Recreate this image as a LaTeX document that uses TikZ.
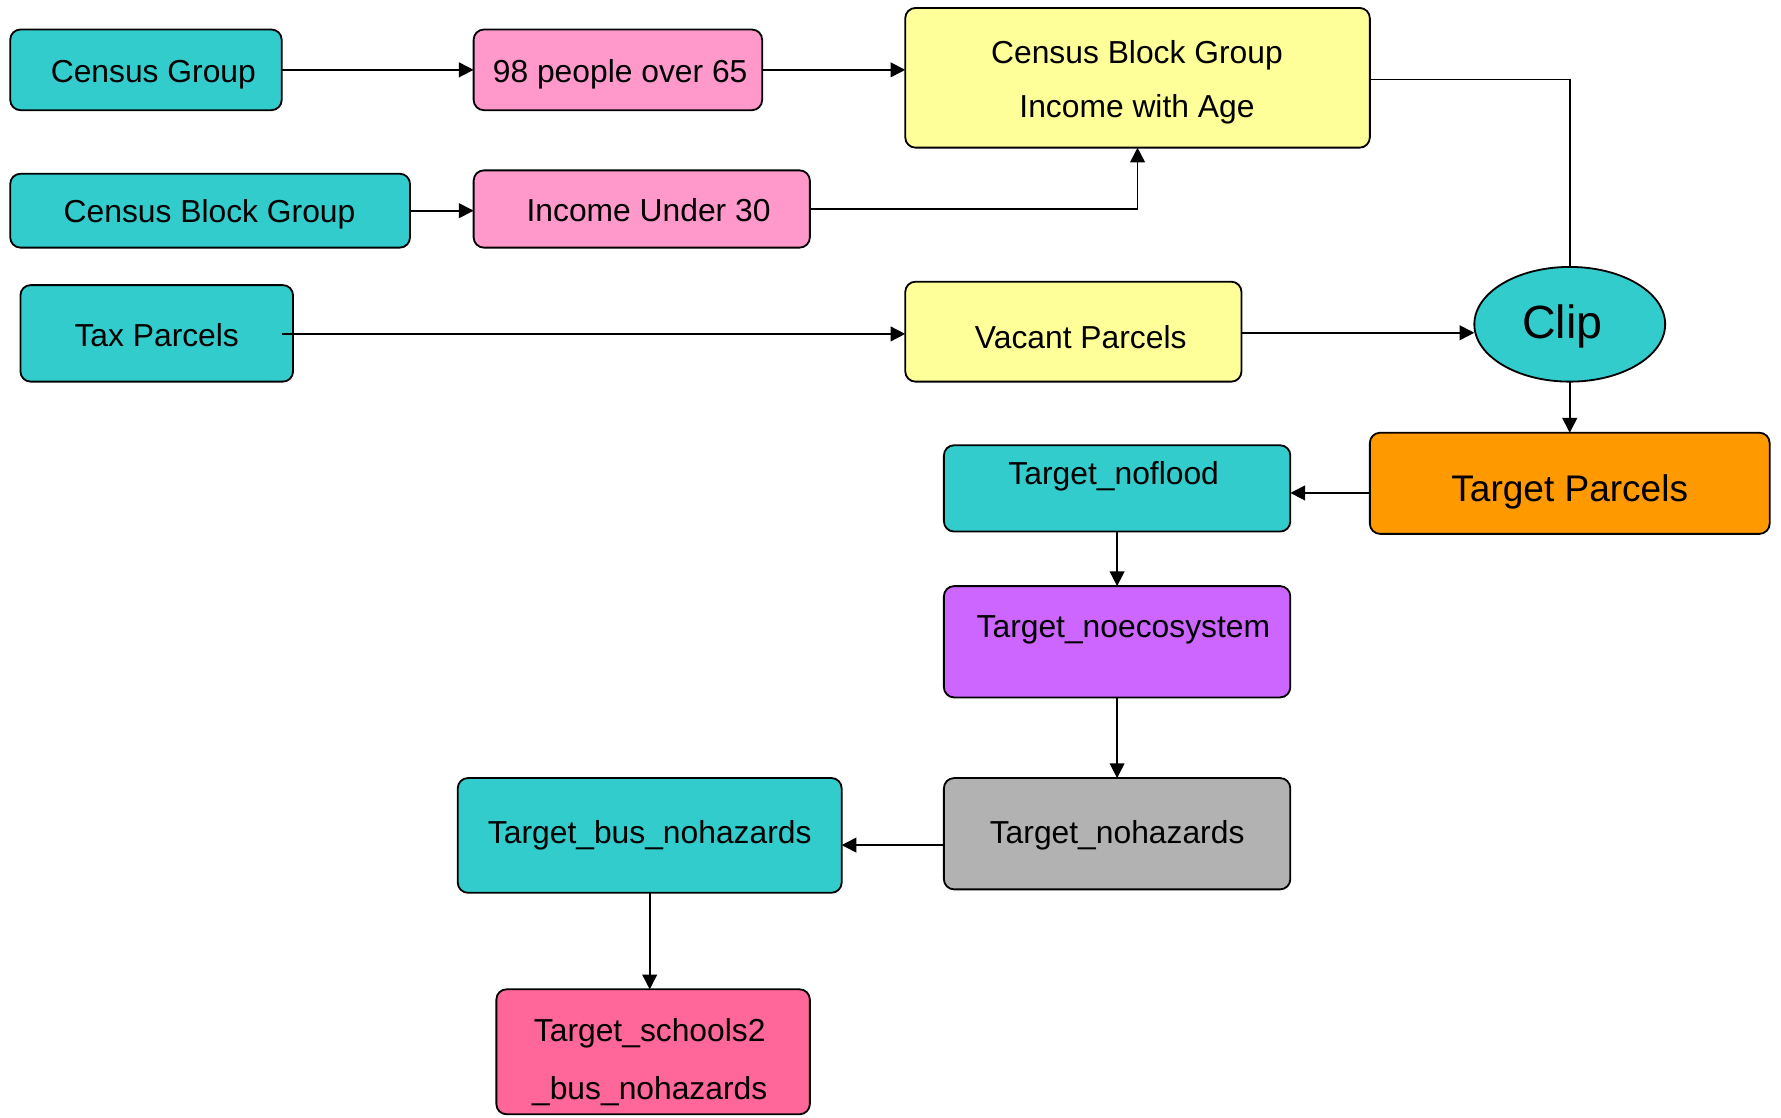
\documentclass[tikz,border=0pt]{standalone}
\usepackage{fontspec}
\setmainfont{Liberation Sans}
\usetikzlibrary{arrows.meta,shapes.geometric}

\definecolor{cteal}{HTML}{33CCCC}
\definecolor{cpink}{HTML}{FF99CC}
\definecolor{cyellow}{HTML}{FFFF99}
\definecolor{corange}{HTML}{FF9900}
\definecolor{cpurple}{HTML}{CC66FF}
\definecolor{cgray}{HTML}{B2B2B2}
\definecolor{crose}{HTML}{FF6699}

\tikzset{
  box/.style={draw=black, line width=0.8pt, rounded corners=4.5pt, outer sep=0pt, inner sep=0pt},
  oval/.style={ellipse, draw=black, line width=0.8pt, outer sep=0pt, inner sep=0pt},
  txt/.style={inner sep=0pt, text height=0.72em, text depth=0pt, yshift=-1.5pt, font=\fontsize{14}{16.8}\selectfont},
  bigtxt/.style={txt, yshift=-2pt, font=\fontsize{20.5}{24}\selectfont},
  midtxt/.style={txt, yshift=-0.5pt, font=\fontsize{16.3}{19.5}\selectfont},
  link/.style={line width=0.75pt, -{Triangle[length=6.5pt,width=6.5pt]}},
  plain/.style={line width=0.75pt}
}

\begin{document}
\begin{tikzpicture}[x=0.5pt, y=-0.5pt]
\useasboundingbox (0,0) rectangle (1568,984);

% boxes
\node[box, fill=cteal,   minimum width=119.5pt, minimum height=35.5pt] (cg)   at (128.5,61.5) {};
\node[box, fill=cpink,   minimum width=127pt,   minimum height=35.5pt] (p98)  at (544,61.5)   {};
\node[box, fill=cyellow, minimum width=204.5pt, minimum height=61.5pt] (cbgi) at (1001.5,68.5) {};
\node[box, fill=cteal,   minimum width=176pt,   minimum height=32.5pt] (cbg)  at (185,185.5)  {};
\node[box, fill=cpink,   minimum width=148pt,   minimum height=34pt]   (inc)  at (565,184)    {};
\node[box, fill=cteal,   minimum width=120pt,   minimum height=42.5pt] (tax)  at (138,293.5)  {};
\node[box, fill=cyellow, minimum width=148pt,   minimum height=44pt]   (vac)  at (945,292)    {};
\node[oval, fill=cteal,  minimum width=84pt,    minimum height=50.5pt] (clip) at (1382,285.5) {};
\node[box, fill=corange, minimum width=176pt,   minimum height=44.5pt] (tp)   at (1382,425.5) {};
\node[box, fill=cteal,   minimum width=152.5pt, minimum height=38pt]   (nf)   at (983.5,430)  {};
\node[box, fill=cpurple, minimum width=152.5pt, minimum height=49pt]   (neco) at (983.5,565)  {};
\node[box, fill=cgray,   minimum width=152.5pt, minimum height=49pt]   (nhz)  at (983.5,734)  {};
\node[box, fill=cteal,   minimum width=169pt,   minimum height=50.5pt] (bus)  at (572,735.5)  {};
\node[box, fill=crose,   minimum width=138pt,   minimum height=55pt]   (sch)  at (575,926)    {};

% labels
\node[txt] (cg-t)    at (135,62)    {Census Group};
\node[txt] (p98-t)   at (546,62)    {98 people over 65};
\node[txt] (cbgi-t1) at (1001,46)   {Census Block Group};
\node[txt] (cbgi-t2) at (1001,93)   {Income with Age};
\node[txt] (cbg-t)   at (184.5,186) {Census Block Group};
\node[txt] (inc-t)   at (571,185)   {Income Under 30};
\node[txt] (tax-t)   at (138,295)   {Tax Parcels};
\node[txt] (vac-t)   at (951.5,297) {Vacant Parcels};
\node[bigtxt] (clip-t) at (1375.5,284) {Clip};
\node[midtxt] (tp-t) at (1382,430)  {Target Parcels};
\node[txt] (nf-t)    at (980.5,416) {Target\_noflood};
\node[txt] (neco-t)  at (989,551)   {Target\_noecosystem};
\node[txt] (nhz-t)   at (983.5,732) {Target\_nohazards};
\node[txt] (bus-t)   at (572,732)   {Target\_bus\_nohazards};
\node[txt] (sch-t1)  at (572,907)   {Target\_schools2};
\node[txt] (sch-t2)  at (572,958)   {\_bus\_nohazards};

% connector end points that sit off the anchors
\coordinate (tax-out) at ([xshift=-5pt,yshift=-0.25pt]tax.east);
\coordinate (vac-out) at ([yshift=-0.5pt]vac.east);
\coordinate (cbgi-out) at ([yshift=-0.75pt]cbgi.east);
\coordinate (tp-out) at ([yshift=-4.25pt]tp.west);
\coordinate (nhz-out) at ([yshift=-5pt]nhz.west);

% connectors
\draw[link] (cg.east) -- (p98.west |- cg.east);
\draw[link] (p98.east) -- (cbgi.west |- p98.east);
\draw[link] (cbg.east) -- (inc.west |- cbg.east);
\draw[link] (inc.east) -| (cbgi.south);
\draw[link] (tax-out) -- (vac.west |- tax-out);
\draw[link] (vac-out) -- (clip.west |- vac-out);
\draw[plain] (cbgi-out) -| (clip.north);
\draw[link] (clip.south) -- (tp.north);
\draw[link] (tp-out) -- (nf.east |- tp-out);
\draw[link] (nf.south) -- (neco.north);
\draw[link] (neco.south) -- (nhz.north);
\draw[link] (nhz-out) -- (bus.east |- nhz-out);
\draw[link] (bus.south) -- (sch.north -| bus.south);
\end{tikzpicture}
\end{document}
